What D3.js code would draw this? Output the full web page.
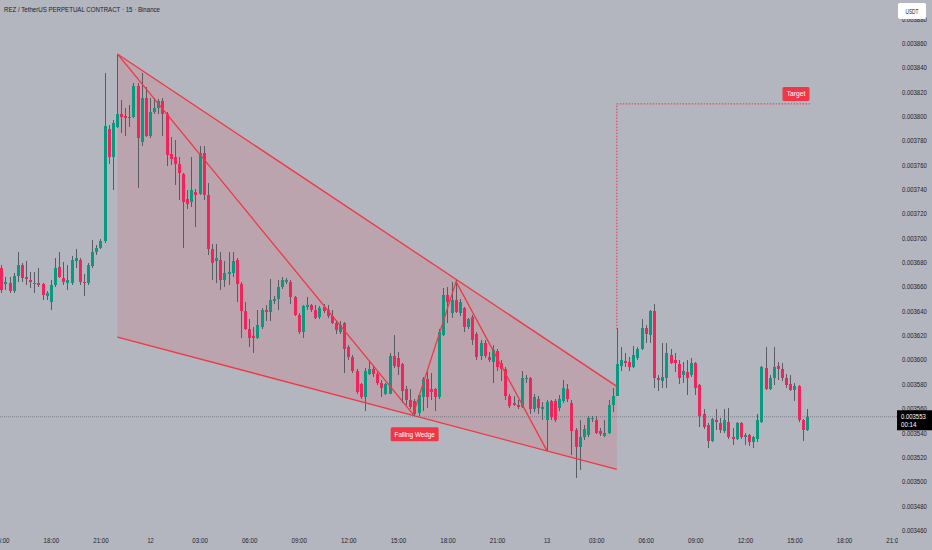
<!DOCTYPE html>
<html>
<head>
<meta charset="utf-8">
<script src="https://cdn.jsdelivr.net/npm/d3@7"></script>
<style>
  body { margin: 0; background: #b3b6be; }
  text { font-family: "Liberation Sans", Arial, sans-serif; }
</style>
</head>
<body>
<div id="chart"></div>
<script>
// REZ/USDT perpetual, 15m bars, prices in millionths of USDT (3553 = 0.003553)
var open = [
  3675,3662,3663,3656,3669,3678,3668,3665,3663,3663,
  3662,3652,3647,3661,3676,3667,3663,3663,3681,3682,
  3664,3663,3677,3688,3692,3697,3789,3766,3791,3802,
  3800,3799,3799,3825,3779,3815,3784,3803,3807,3812,
  3802,3769,3766,3761,3752,3732,3729,3738,3736,3770,
  3735,3691,3681,3682,3665,3670,3671,3682,3662,3640,
  3625,3619,3618,3627,3641,3639,3648,3650,3660,3664,
  3664,3651,3637,3623,3643,3645,3641,3635,3643,3641,
  3636,3630,3623,3630,3610,3602,3591,3580,3569,3588,
  3592,3588,3581,3572,3572,3603,3601,3596,3576,3567,
  3566,3556,3569,3584,3576,3576,3569,3620,3653,3638,
  3649,3638,3642,3627,3635,3621,3603,3614,3602,3598,
  3607,3597,3592,3570,3564,3563,3561,3584,3585,3559,
  3568,3559,3550,3566,3566,3560,3566,3576,3564,3542,
  3528,3536,3538,3551,3550,3541,3537,3540,3563,3570,
  3595,3599,3598,3594,3601,3609,3626,3620,3640,3585,
  3582,3585,3604,3600,3596,3587,3590,3587,3597,3579,
  3555,3546,3533,3550,3548,3541,3549,3536,3535,3548,
  3536,3538,3532,3535,3549,3593,3576,3585,3595,3592,
  3585,3580,3575,3578,3550,3542
];
var high = [
  3678,3668,3668,3671,3688,3679,3681,3672,3672,3675,
  3663,3656,3665,3683,3688,3680,3678,3685,3691,3683,
  3670,3679,3698,3694,3699,3835,3793,3797,3851,3813,
  3807,3809,3827,3827,3835,3824,3815,3815,3814,3815,
  3803,3783,3780,3766,3753,3739,3766,3740,3775,3775,
  3745,3695,3695,3688,3681,3688,3688,3683,3664,3647,
  3633,3627,3641,3642,3645,3666,3652,3665,3668,3667,
  3665,3652,3638,3645,3651,3646,3645,3644,3646,3645,
  3641,3632,3632,3631,3612,3604,3592,3581,3593,3598,
  3595,3590,3583,3581,3605,3620,3606,3597,3578,3576,
  3568,3572,3586,3590,3589,3577,3625,3659,3660,3664,
  3665,3650,3643,3634,3637,3623,3616,3616,3606,3612,
  3609,3600,3594,3572,3570,3567,3591,3587,3586,3572,
  3570,3565,3567,3567,3568,3571,3583,3580,3567,3544,
  3550,3546,3554,3554,3554,3544,3550,3567,3577,3626,
  3610,3605,3602,3611,3610,3633,3628,3641,3646,3587,
  3614,3614,3609,3605,3600,3598,3600,3601,3598,3580,
  3559,3548,3552,3559,3552,3559,3560,3544,3549,3549,
  3540,3539,3537,3555,3595,3610,3587,3610,3598,3597,
  3588,3587,3581,3579,3551,3559
];
var low = [
  3655,3657,3655,3655,3664,3664,3661,3659,3655,3660,
  3649,3649,3641,3660,3667,3661,3657,3661,3675,3661,
  3652,3661,3675,3686,3691,3696,3761,3739,3790,3786,
  3784,3791,3798,3741,3775,3783,3782,3802,3802,3784,
  3759,3760,3743,3731,3692,3724,3725,3709,3735,3731,
  3686,3665,3663,3657,3660,3661,3668,3647,3618,3624,
  3610,3605,3617,3625,3632,3632,3646,3641,3658,3662,
  3646,3636,3621,3618,3641,3639,3633,3633,3638,3634,
  3629,3621,3621,3589,3600,3589,3572,3568,3558,3587,
  3586,3579,3569,3571,3572,3593,3587,3564,3563,3559,
  3554,3554,3558,3560,3567,3558,3568,3619,3630,3634,
  3638,3636,3623,3625,3612,3600,3600,3601,3598,3581,
  3591,3582,3567,3560,3562,3559,3560,3581,3555,3557,
  3555,3550,3525,3550,3549,3558,3564,3565,3522,3503,
  3509,3534,3536,3549,3539,3537,3536,3539,3557,3570,
  3591,3594,3591,3593,3600,3608,3614,3614,3577,3574,
  3577,3577,3596,3590,3580,3581,3571,3586,3571,3545,
  3543,3527,3532,3542,3540,3540,3535,3530,3534,3535,
  3530,3529,3527,3532,3548,3575,3575,3579,3583,3582,
  3577,3574,3566,3549,3533,3541
];
var close = [
  3657,3664,3656,3669,3678,3667,3666,3664,3662,3661,
  3653,3655,3661,3675,3668,3664,3665,3682,3683,3664,
  3663,3678,3688,3692,3697,3792,3766,3794,3802,3799,
  3798,3798,3825,3782,3815,3784,3803,3807,3812,3802,
  3768,3765,3761,3753,3729,3728,3739,3735,3770,3735,
  3691,3679,3683,3665,3671,3672,3681,3662,3640,3625,
  3618,3618,3628,3641,3639,3649,3650,3660,3665,3665,
  3651,3637,3623,3644,3645,3641,3634,3642,3640,3636,
  3630,3624,3628,3609,3602,3591,3573,3569,3591,3592,
  3588,3581,3577,3580,3603,3595,3594,3574,3567,3561,
  3555,3571,3584,3569,3573,3569,3623,3653,3647,3649,
  3639,3647,3627,3633,3616,3602,3614,3603,3600,3608,
  3594,3592,3570,3562,3563,3561,3585,3585,3559,3569,
  3560,3561,3565,3553,3550,3568,3577,3568,3541,3528,
  3536,3543,3552,3552,3540,3539,3540,3563,3570,3596,
  3600,3597,3594,3604,3609,3626,3621,3640,3585,3583,
  3586,3605,3597,3597,3585,3591,3585,3597,3577,3554,
  3545,3533,3551,3549,3542,3550,3536,3535,3548,3536,
  3538,3532,3536,3550,3594,3576,3585,3594,3592,3585,
  3579,3575,3578,3550,3542,3553
];

var priceTicks = d3.range(3460, 3881, 20);   // price scale labels, same units
var lastPrice = 3553;
var countdown = "00:14";

// drawings: [bar index, price]
var wedgeUpper = [[28.1, 3851], [149, 3578]];
var wedgeLower = [[28.1, 3618.5], [149, 3509.7]];
var wedgeSwings = [[28.1, 3851], [99.7, 3555], [110.1, 3664], [132.1, 3525]];
var targetPath = [[149, 3625], [149, 3810], [196, 3810]];

var unit = 1e-6;
var t0 = Date.UTC(2025, 2, 11, 15, 0);
var barMs = 15 * 60 * 1000;
function barTime(i) { return new Date(t0 + i * barMs); }

var candles = open.map(function (o, i) {
  return { time: barTime(i), open: o * unit, high: high[i] * unit, low: low[i] * unit, close: close[i] * unit };
});

var width = 932, height = 550;
var plotW = 898;
var up = "#089981", down = "#f0255b", drawRed = "#f23645", ink = "#1e222d";

// the chart uses a narrow UI face; squeeze the installed sans to that width
function narrow(sel, perChar) {
  sel.each(function () {
    var n = this.textContent.length;
    d3.select(this).attr("textLength", n * perChar).attr("lengthAdjust", "spacingAndGlyphs");
  });
}

var svg = d3.select("#chart").append("svg")
  .attr("width", width)
  .attr("height", height)
  .style("display", "block");

svg.append("rect").attr("width", width).attr("height", height).attr("fill", "#b3b6be");

// visible window: a little before the first bar, ~217 bars of room
var xScale = d3.scaleUtc()
  .domain([barTime(-0.315), barTime(217.06)])
  .range([0, plotW]);

var yScale = d3.scaleLinear()
  .domain([3460 * unit, 3880 * unit])
  .range([530, 18.65]);

function px(p) { return xScale(barTime(p[0])); }
function py(p) { return yScale(p[1] * unit); }

svg.append("clipPath").attr("id", "plot")
  .append("rect").attr("width", plotW).attr("height", height);

var plot = svg.append("g").attr("clip-path", "url(#plot)");

// wedge fill
plot.append("path")
  .datum([wedgeUpper[0], wedgeUpper[1], wedgeLower[1], wedgeLower[0]])
  .attr("d", d3.line().x(px).y(py).curve(d3.curveLinearClosed))
  .attr("fill", drawRed)
  .attr("fill-opacity", 0.14);

// current price line
plot.append("line")
  .attr("x1", 0).attr("x2", plotW)
  .attr("y1", yScale(lastPrice * unit)).attr("y2", yScale(lastPrice * unit))
  .attr("stroke", "#6f727c")
  .attr("stroke-width", 0.8)
  .attr("stroke-dasharray", "1,1");

// candles
var bw = 3;
var g = plot.append("g").attr("shape-rendering", "crispEdges");

g.selectAll(".wick").data(candles).enter().append("line")
  .attr("class", "wick")
  .attr("x1", function (d) { return Math.round(xScale(d.time)) + 0.5; })
  .attr("x2", function (d) { return Math.round(xScale(d.time)) + 0.5; })
  .attr("y1", function (d) { return yScale(d.high); })
  .attr("y2", function (d) { return yScale(d.low); })
  .attr("stroke", "#585b64")
  .attr("stroke-width", 1);

g.selectAll(".body").data(candles).enter().append("rect")
  .attr("class", "body")
  .attr("x", function (d) { return Math.round(xScale(d.time)) + 0.5 - bw / 2; })
  .attr("width", bw)
  .attr("y", function (d) { return yScale(Math.max(d.open, d.close)); })
  .attr("height", function (d) { return Math.max(1, Math.abs(yScale(d.open) - yScale(d.close))); })
  .attr("fill", function (d) { return d.close >= d.open ? up : down; });

// wedge lines
var line = d3.line().x(px).y(py);
[wedgeUpper, wedgeLower, wedgeSwings].forEach(function (pts) {
  plot.append("path")
    .datum(pts)
    .attr("d", line)
    .attr("fill", "none")
    .attr("stroke", drawRed)
    .attr("stroke-width", 1.3);
});

// target projection
plot.append("path")
  .datum(targetPath)
  .attr("d", line)
  .attr("fill", "none")
  .attr("stroke", drawRed)
  .attr("stroke-width", 1)
  .attr("stroke-dasharray", "1.5,1.5");

function tag(cx, top, label, w) {
  var t = plot.append("g");
  t.append("rect")
    .attr("x", cx - w / 2).attr("y", top)
    .attr("width", w).attr("height", 14)
    .attr("rx", 1.5)
    .attr("fill", drawRed);
  t.append("text")
    .attr("x", cx).attr("y", top + 9.5)
    .attr("text-anchor", "middle")
    .attr("font-size", 7)
    .attr("fill", "#ffffff")
    .text(label)
    .call(narrow, 3.1);
}

tag(px(wedgeSwings[1]) + 1.5, py(wedgeSwings[1]) + 13, "Falling Wedge", 48);
tag(px(targetPath[2]) - 15, py(targetPath[2]) - 17, "Target", 27);

// time axis
var timeAxis = d3.axisBottom(xScale)
  .ticks(d3.utcHour.every(3))
  .tickSize(0)
  .tickPadding(0)
  .tickFormat(function (d) {
    return d.getUTCHours() === 0 ? d3.utcFormat("%-d")(d) : d3.utcFormat("%H:%M")(d);
  });

var xg = svg.append("g")
  .attr("clip-path", "url(#plot)")
  .append("g")
  .attr("transform", "translate(0,538)")
  .call(timeAxis);
xg.select(".domain").remove();
xg.selectAll("text").attr("font-size", 7.5).attr("fill", ink)
  .style("font-family", "'Liberation Sans', sans-serif")
  .call(narrow, 3.1);

// price axis
var priceAxis = d3.axisRight(yScale)
  .tickValues(priceTicks.map(function (v) { return v * unit; }))
  .tickSize(0)
  .tickPadding(0)
  .tickFormat(d3.format(".6f"));

var yg = svg.append("g")
  .attr("transform", "translate(902,0)")
  .call(priceAxis);
yg.select(".domain").remove();
yg.selectAll("text").attr("font-size", 7.5).attr("fill", ink)
  .style("font-family", "'Liberation Sans', sans-serif")
  .call(narrow, 3.1);

// last price badge
var ly = yScale(lastPrice * unit);
svg.append("rect")
  .attr("x", 897).attr("y", ly - 6.5)
  .attr("width", 35).attr("height", 20)
  .attr("fill", "#000000");
svg.append("text")
  .attr("x", 901).attr("y", ly + 2.5)
  .attr("font-size", 7.5).attr("fill", "#ffffff")
  .text(d3.format(".6f")(lastPrice * unit))
  .call(narrow, 3.1);
svg.append("text")
  .attr("x", 901).attr("y", ly + 10.5)
  .attr("font-size", 7.5).attr("fill", "#ffffff")
  .text(countdown)
  .call(narrow, 3.1);

// currency box
svg.append("rect")
  .attr("x", 898).attr("y", 3)
  .attr("width", 28).attr("height", 16)
  .attr("rx", 2)
  .attr("fill", "#ffffff");
svg.append("text")
  .attr("x", 912).attr("y", 13.5)
  .attr("text-anchor", "middle")
  .attr("font-size", 6.5).attr("fill", "#131722")
  .text("USDT")
  .call(narrow, 3.2);

// title
svg.append("text")
  .attr("x", 4).attr("y", 12)
  .attr("font-size", 7.5).attr("fill", ink)
  .text("REZ / TetherUS PERPETUAL CONTRACT · 15 · Binance")
  .call(narrow, 3.25);
</script>
</body>
</html>
